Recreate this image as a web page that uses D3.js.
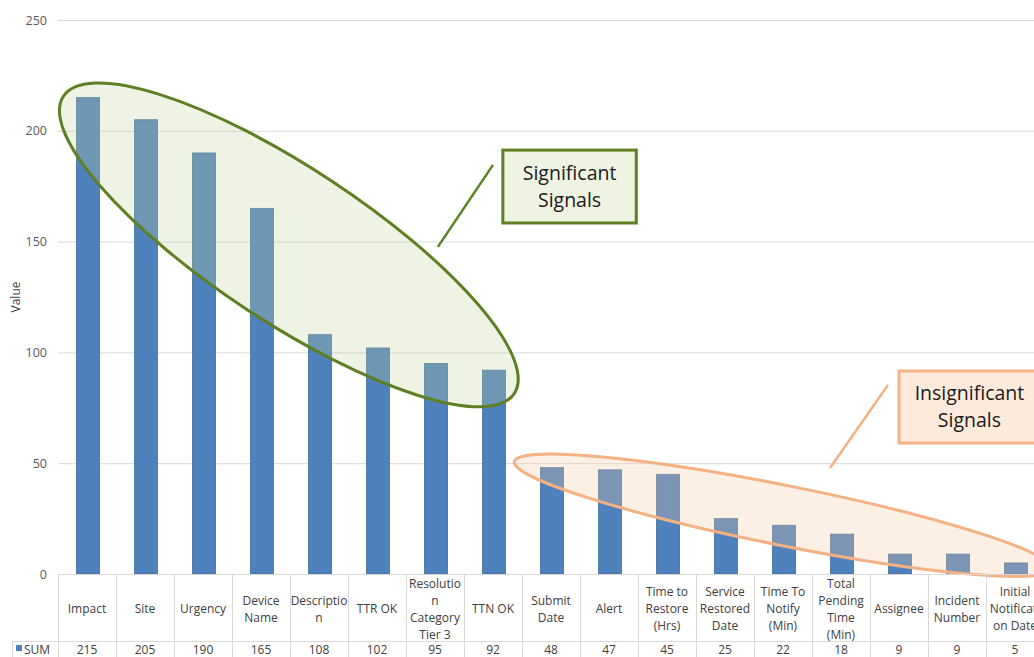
<!DOCTYPE html>
<html>
<head>
<meta charset="utf-8">
<script src="https://cdn.jsdelivr.net/npm/d3@7"></script>
<style>
  html, body { margin: 0; padding: 0; background: #fff; }
  svg { display: block; font-family: "Open Sans", "Noto Sans", sans-serif; }
</style>
</head>
<body>
<div id="chart"></div>
<script>
// Category names (full) and how they wrap in the data table
const categories = ["Impact", "Site", "Urgency", "Device Name", "Description", "TTR OK",
  "Resolution Category Tier 3", "TTN OK", "Submit Date", "Alert", "Time to Restore (Hrs)",
  "Service Restored Date", "Time To Notify (Min)", "Total Pending Time (Min)", "Assignee",
  "Incident Number", "Initial Notification Date"];
const categoryLines = [["Impact"], ["Site"], ["Urgency"], ["Device", "Name"], ["Descriptio", "n"],
  ["TTR OK"], ["Resolutio", "n", "Category", "Tier 3"], ["TTN OK"], ["Submit", "Date"], ["Alert"],
  ["Time to", "Restore", "(Hrs)"], ["Service", "Restored", "Date"], ["Time To", "Notify", "(Min)"],
  ["Total", "Pending", "Time", "(Min)"], ["Assignee"], ["Incident", "Number"],
  ["Initial", "Notificati", "on Date"]];
const sumValues = [215, 205, 190, 165, 108, 102, 95, 92, 48, 47, 45, 25, 22, 18, 9, 9, 5];
const yTicks = [0, 50, 100, 150, 200, 250];
const seriesName = "SUM";

// Annotations, in data space (category index, value)
const groups = [
  { cx: 3.98, cy: 148.5, rx: 270, ry: 77, angle: 33.4, stroke: "#5f7f24", fill: "rgb(192,210,150)", opacity: 0.27 },
  { cx: 12.5, cy: 26.5, rx: 274, ry: 30, angle: 11.3, stroke: "#f4b183", fill: "rgb(246,200,160)", opacity: 0.28 }
];
const callouts = [
  { lines: ["Significant", "Signals"], box: [7.67, 191.3, 9.97, 158.4], leader: [7.5, 184.6, 6.55, 147.6],
    stroke: "#5f7f24", fill: "#eef3e2" },
  { lines: ["Insignificant", "Signals"], box: [14.5, 91.6, 16.93, 59.1], leader: [14.31, 85.3, 13.31, 47.8],
    stroke: "#f4b183", fill: "#fdeada" }
];

const width = 1034;
const height = 657;
const plotLeft = 58;
const step = 58;
const plotTop = 20;
const plotBottom = 574;
const tableMid = 641;

const svg = d3.select('#chart').append('svg')
  .attr('width', width)
  .attr('height', height);

const x = d3.scaleBand()
  .domain(categories)
  .range([plotLeft, plotLeft + step * categories.length])
  .padding(0);

const xi = d3.scaleLinear()
  .domain([0, categories.length])
  .range([plotLeft, plotLeft + step * categories.length]);

const y = d3.scaleLinear()
  .domain([0, 250])
  .range([plotBottom, plotTop]);

// Gridlines + y tick labels
const yAxis = d3.axisLeft(y)
  .tickValues(yTicks)
  .tickSize(-(width - plotLeft))
  .tickPadding(11);

const gy = svg.append('g')
  .attr('transform', `translate(${plotLeft},0)`)
  .call(yAxis);
gy.select('.domain').remove();
gy.selectAll('.tick line').attr('stroke', '#d9d9d9');
gy.selectAll('.tick text')
  .attr('fill', '#595959')
  .attr('font-size', 12.5)
  .attr('font-family', '"Open Sans", sans-serif');

// Axis title
svg.append('text')
  .attr('transform', `translate(20, ${(plotTop + plotBottom) / 2}) rotate(-90)`)
  .attr('text-anchor', 'middle')
  .attr('font-size', 12)
  .attr('fill', '#404040')
  .text('Value');

// Bars
const barW = x.bandwidth() * 0.4;
svg.append('g')
  .selectAll('rect')
  .data(sumValues)
  .join('rect')
  .attr('x', (d, i) => x(categories[i]) + (x.bandwidth() - barW) / 2 + 1)
  .attr('y', d => y(d))
  .attr('width', barW)
  .attr('height', d => y(0) - y(d))
  .attr('fill', '#4f81bd')
  .attr('stroke', '#41719c')
  .attr('stroke-width', 0.8);

// Group ellipses
svg.append('g')
  .selectAll('ellipse')
  .data(groups)
  .join('ellipse')
  .attr('transform', d => `translate(${xi(d.cx)},${y(d.cy)}) rotate(${d.angle})`)
  .attr('rx', d => d.rx)
  .attr('ry', d => d.ry)
  .attr('fill', d => d.fill)
  .attr('fill-opacity', d => d.opacity)
  .attr('stroke', d => d.stroke)
  .attr('stroke-width', 3);

// Callouts
const co = svg.append('g').selectAll('g').data(callouts).join('g');
co.append('line')
  .attr('x1', d => xi(d.leader[0])).attr('y1', d => y(d.leader[1]))
  .attr('x2', d => xi(d.leader[2])).attr('y2', d => y(d.leader[3]))
  .attr('stroke', d => d.stroke)
  .attr('stroke-width', 2.5);
co.append('rect')
  .attr('x', d => xi(d.box[0])).attr('y', d => y(d.box[1]))
  .attr('width', d => xi(d.box[2]) - xi(d.box[0]))
  .attr('height', d => y(d.box[3]) - y(d.box[1]))
  .attr('fill', d => d.fill)
  .attr('stroke', d => d.stroke)
  .attr('stroke-width', 3);
co.each(function(d) {
  const cxp = (xi(d.box[0]) + xi(d.box[2])) / 2;
  const cyp = (y(d.box[1]) + y(d.box[3])) / 2;
  d3.select(this).selectAll('text.cl')
    .data(d.lines)
    .join('text')
    .attr('class', 'cl')
    .attr('x', cxp)
    .attr('y', (t, i) => cyp + (i - (d.lines.length - 1) / 2) * 27)
    .attr('dy', '0.35em')
    .attr('text-anchor', 'middle')
    .attr('font-size', 19.5)
    .attr('fill', '#1a1a1a')
    .text(t => t);
});

// Data table
const table = svg.append('g');
const gridColor = '#d9d9d9';
const tableRight = plotLeft + step * categories.length;

table.append('line')
  .attr('x1', plotLeft).attr('x2', tableRight)
  .attr('y1', plotBottom + 0.5).attr('y2', plotBottom + 0.5)
  .attr('stroke', gridColor);
table.append('line')
  .attr('x1', 12).attr('x2', tableRight)
  .attr('y1', tableMid + 0.5).attr('y2', tableMid + 0.5)
  .attr('stroke', gridColor);
table.append('line')
  .attr('x1', 12.5).attr('x2', 12.5)
  .attr('y1', tableMid).attr('y2', height)
  .attr('stroke', gridColor);
table.selectAll('line.v')
  .data(categories.concat(['end']))
  .join('line')
  .attr('class', 'v')
  .attr('x1', d => d === 'end' ? tableRight : Math.round(x(d)) + 0.5)
  .attr('x2', d => d === 'end' ? tableRight : Math.round(x(d)) + 0.5)
  .attr('y1', plotBottom)
  .attr('y2', height)
  .attr('stroke', gridColor);

// Category labels (the last column is cut by the right edge, as in the source)
table.selectAll('g.cat')
  .data(categoryLines)
  .join('g')
  .attr('class', 'cat')
  .each(function(lines, i) {
    const cx = x(categories[i]) + x.bandwidth() / 2;
    d3.select(this).selectAll('text')
      .data(lines)
      .join('text')
      .attr('x', cx)
      .attr('y', (t, j) => 609 + (j - (lines.length - 1) / 2) * 17)
      .attr('dy', '0.35em')
      .attr('text-anchor', 'middle')
      .attr('font-size', 12)
      .attr('fill', '#404040')
      .text(t => t);
  });

// Values row
table.selectAll('text.val')
  .data(sumValues)
  .join('text')
  .attr('class', 'val')
  .attr('x', (d, i) => x(categories[i]) + x.bandwidth() / 2)
  .attr('y', 650)
  .attr('dy', '0.35em')
  .attr('text-anchor', 'middle')
  .attr('font-size', 12)
  .attr('fill', '#404040')
  .text(d => d);

// Legend key
table.append('rect')
  .attr('x', 16).attr('y', 645)
  .attr('width', 6).attr('height', 6)
  .attr('fill', '#4f81bd');
table.append('text')
  .attr('x', 24).attr('y', 650)
  .attr('dy', '0.35em')
  .attr('font-size', 12)
  .attr('fill', '#404040')
  .text(seriesName);
</script>
</body>
</html>
